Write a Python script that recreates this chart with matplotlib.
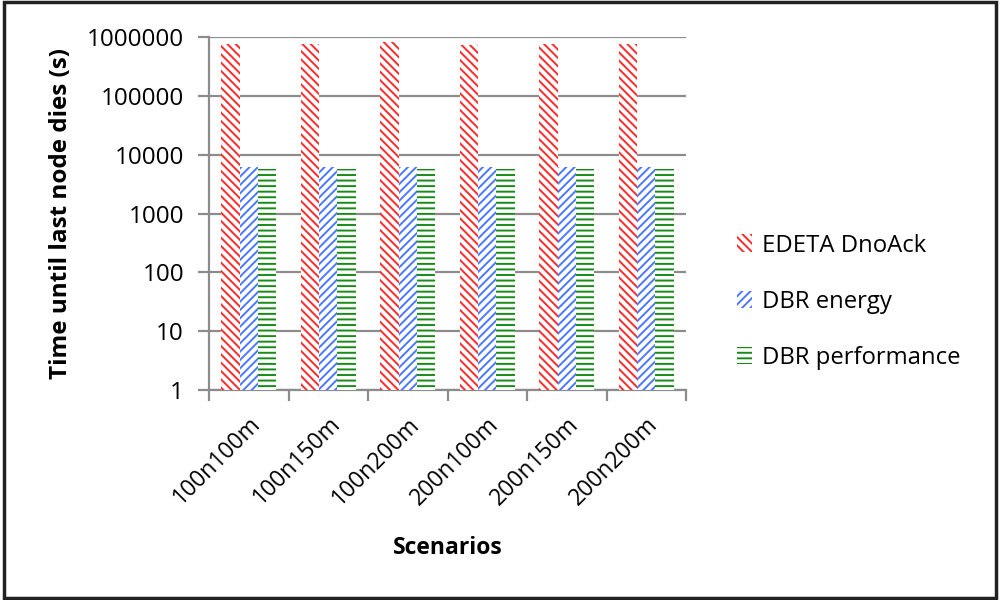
import matplotlib
matplotlib.use("Agg")
import matplotlib.pyplot as plt
import matplotlib.transforms as mtransforms
import numpy as np
from matplotlib.patches import Rectangle
from matplotlib.ticker import FixedLocator, NullFormatter

plt.rcParams['font.family'] = ['Open Sans', 'DejaVu Sans']
plt.rcParams['hatch.linewidth'] = 1.4

scenarios = ["100n100m", "100n150m", "100n200m", "200n100m", "200n150m", "200n200m"]
edeta_dnoack = [780000, 780000, 820000, 730000, 780000, 780000]
dbr_energy = [6200, 6200, 6200, 6200, 6200, 6200]
dbr_performance = [5800, 5800, 5800, 5800, 5800, 5800]
series_names = ["EDETA DnoAck", "DBR energy", "DBR performance"]
ytick_values = [1, 10, 100, 1000, 10000, 100000, 1000000]
ytick_labels = ["1", "10", "100", "1000", "10000", "100000", "1000000"]

fig = plt.figure(figsize=(10, 6), dpi=100)
ax = fig.add_axes([0.209, 0.35, 0.477, 0.588])

x = np.arange(len(scenarios))
w = 0.23
styles = [("#ff2a2a", "\\\\\\\\"), ("#4a78ff", "////"), ("#168c16", "---")]
data = [edeta_dnoack, dbr_energy, dbr_performance]
handles = []
for i, (vals, (col, hatch), name) in enumerate(zip(data, styles, series_names)):
    b = ax.bar(x + (i - 1) * w, vals, width=w, bottom=1, facecolor="white",
               edgecolor=col, linewidth=0, hatch=hatch, label=name, zorder=3)
    handles.append(b)

ax.set_yscale("log")
ax.set_ylim(1, 1000000)
ax.set_xlim(-0.5, len(scenarios) - 0.5)
ax.yaxis.set_major_locator(FixedLocator(ytick_values))
ax.set_yticklabels(ytick_labels)
ax.yaxis.set_minor_locator(FixedLocator([]))
ax.yaxis.grid(True, color="#8c8c8c", linewidth=1.6, zorder=0)
ax.set_axisbelow(True)

ax.set_xticks(x)
ax.set_xticklabels(scenarios, rotation=45, ha="right", rotation_mode="anchor", fontsize=16.5)
offset = mtransforms.ScaledTranslation(8 / 100, 0, fig.dpi_scale_trans)
for lab in ax.get_xticklabels():
    lab.set_transform(lab.get_transform() + offset)
ax.xaxis.set_minor_locator(FixedLocator(np.arange(len(scenarios) + 1) - 0.5))
ax.xaxis.set_minor_formatter(NullFormatter())
ax.tick_params(axis="x", which="major", length=0, pad=16)
ax.tick_params(axis="x", which="minor", length=8, width=1.6, color="#8c8c8c")
ax.tick_params(axis="y", which="major", length=8, width=1.6, color="#8c8c8c", labelsize=17.5, pad=10)

for s in ["top", "right"]:
    ax.spines[s].set_visible(False)
for s in ["left", "bottom"]:
    ax.spines[s].set_color("#8c8c8c")
    ax.spines[s].set_linewidth(1.6)

ax.set_ylabel("Time until last node dies (s)", fontsize=17.5, fontweight="bold", labelpad=10)
ax.set_xlabel("Scenarios", fontsize=16.5, fontweight="bold", labelpad=19)

leg = fig.legend(handles=handles, labels=series_names, loc="center left",
                 bbox_to_anchor=(0.715, 0.497), frameon=False, fontsize=17.2,
                 handlelength=0.65, handleheight=0.75, handletextpad=0.4, labelspacing=1.35)

fig.patches.append(Rectangle((0.004, 0.004), 0.992, 0.993, transform=fig.transFigure,
                             fill=False, edgecolor="#222222", linewidth=2.5))

fig.savefig("out.png", dpi=100)
